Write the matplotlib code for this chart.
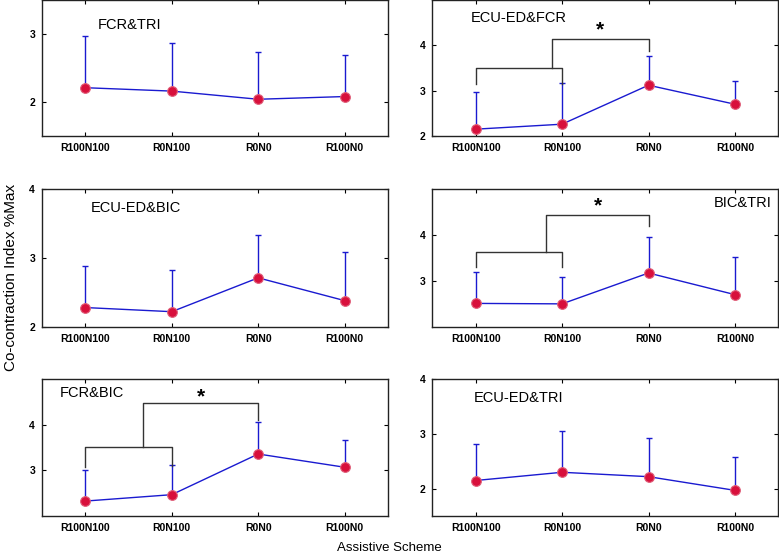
import matplotlib.pyplot as plt

plt.rcParams['font.family'] = ['Liberation Sans', 'DejaVu Sans']

schemes = ['R100N100', 'R0N100', 'R0N0', 'R100N0']

# panel names, means and upper error-bar ends
names = ['FCR&TRI', 'ECU-ED&FCR', 'ECU-ED&BIC', 'BIC&TRI', 'FCR&BIC', 'ECU-ED&TRI']
means = [
    [2.21, 2.16, 2.04, 2.08],
    [2.15, 2.26, 3.12, 2.70],
    [2.28, 2.22, 2.71, 2.38],
    [2.51, 2.50, 3.17, 2.70],
    [2.33, 2.47, 3.36, 3.07],
    [2.15, 2.30, 2.22, 1.97],
]
tops = [
    [2.97, 2.87, 2.73, 2.69],
    [2.96, 3.16, 3.77, 3.22],
    [2.88, 2.83, 3.33, 3.09],
    [3.20, 3.09, 3.96, 3.52],
    [3.01, 3.11, 4.05, 3.67],
    [2.82, 3.05, 2.92, 2.58],
]
ylims = [(1.5, 3.5), (2, 5), (2, 4), (2, 5), (2, 5), (1.5, 4)]
yticks = [[2, 3], [2, 3, 4], [2, 3, 4], [3, 4], [3, 4], [2, 3, 4]]
name_pos = [(0.16, 0.79, 'left'), (0.11, 0.84, 'left'), (0.14, 0.83, 'left'),
            (0.98, 0.87, 'right'), (0.05, 0.87, 'left'), (0.12, 0.83, 'left')]

# significance brackets: (low bar y, left leg end, right leg end, mid x, high bar y, leg end at R0N0, star y)
brackets = {
    1: (3.49, 3.15, 3.15, 1.88, 4.13, 3.88, 4.33),
    3: (3.63, 3.30, 3.30, 1.82, 4.42, 4.19, 4.62),
    4: (3.52, 3.07, 3.10, 1.67, 4.47, 4.11, 4.62),
}

fig = plt.figure(figsize=(7.79, 5.55), dpi=100)
lefts = [0.054, 0.555]
bottoms = [0.755, 0.411, 0.070]
heights = [0.245, 0.249, 0.247]

x = [1, 2, 3, 4]
for i in range(6):
    row, col = i // 2, i % 2
    ax = fig.add_axes([lefts[col], bottoms[row], 0.444, heights[row]])
    m = means[i]
    err = [[0] * 4, [t - v for t, v in zip(tops[i], m)]]
    ax.errorbar(x, m, yerr=err, color='#1a1ad0', lw=1, capsize=2.5, capthick=1,
                elinewidth=1, zorder=2)
    ax.plot(x, m, 'o', ms=7, mfc='#d8103c', mec='#e0607a', mew=0.8, zorder=3)
    ax.set_xlim(0.5, 4.5)
    ax.set_ylim(*ylims[i])
    ax.set_xticks(x)
    ax.set_xticklabels(schemes)
    ax.set_yticks(yticks[i])
    ax.tick_params(direction='in', length=3, labelsize=7.5, top=True, right=True,
                   width=0.8, pad=5)
    for lab in ax.get_xticklabels() + ax.get_yticklabels():
        lab.set_fontweight('bold')
    for s in ax.spines.values():
        s.set_linewidth(1)
        s.set_color('#222222')
    tx, ty, ha = name_pos[i]
    ax.text(tx, ty, names[i], transform=ax.transAxes, fontsize=10.5, ha=ha)

    if i in brackets:
        low, l1, l2, mx, high, r3, sy = brackets[i]
        k = '#333333'
        ax.plot([1, 1, 2, 2], [l1, low, low, l2], color=k, lw=1)
        ax.plot([mx, mx, 3, 3], [low, high, high, r3], color=k, lw=1)
        ax.text((mx + 3) / 2, sy, '*', ha='center', va='center', fontsize=15,
                fontweight='bold')

fig.text(0.014, 0.5, 'Co-contraction Index %Max', rotation=90, va='center',
         ha='center', fontsize=11)
fig.text(0.5, 0.012, 'Assistive Scheme', ha='center', va='center', fontsize=9.5)

fig.savefig('out.png', dpi=100)
